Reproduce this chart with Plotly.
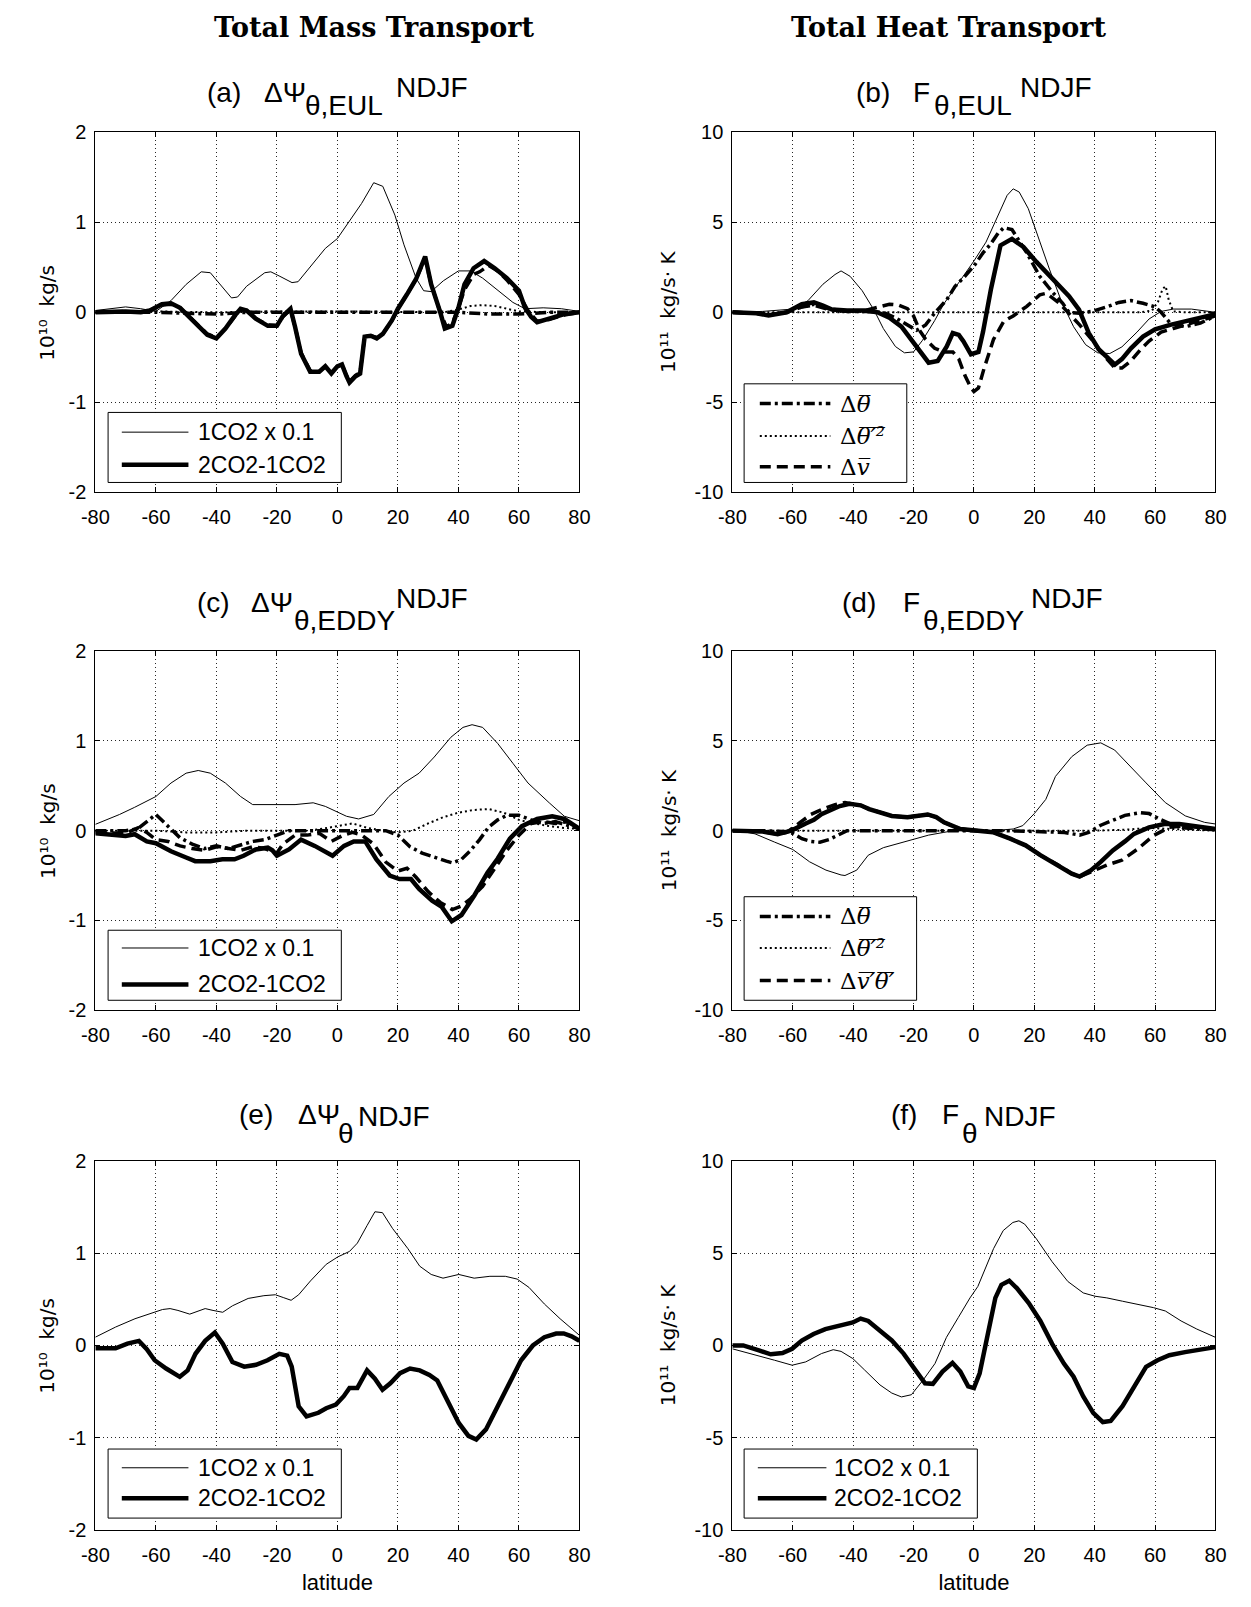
import plotly.graph_objects as go

W, H = 1251, 1607

# ---------------- data ----------------
# (a) Delta Psi_theta,EUL  [10^10 kg/s]
lat_a_1co2 = [-80, -70, -65, -60, -55, -50, -45, -42, -40, -35, -33, -30, -24, -22, -19, -15, -13, -9, -4, 0, 4, 8, 12, 15, 19, 22, 26, 28.5, 31, 35, 40, 44, 48, 53, 58, 62, 68, 74, 80]
a_1co2 = [0.02, 0.06, 0.04, 0.01, 0.13, 0.31, 0.45, 0.44, 0.36, 0.16, 0.17, 0.29, 0.44, 0.45, 0.40, 0.33, 0.34, 0.51, 0.71, 0.82, 1.01, 1.21, 1.44, 1.40, 1.08, 0.75, 0.38, 0.24, 0.23, 0.35, 0.46, 0.46, 0.38, 0.24, 0.11, 0.04, 0.05, 0.04, 0.01]
lat_a_diff = [-80, -70, -65, -62, -58, -55, -52, -48, -43, -40, -37, -34, -32, -30, -27, -23, -20, -18, -15.5, -14, -12, -9, -6, -4, -2, 0, 1.5, 3, 4, 6, 7.5, 9, 11, 13, 15, 18, 20, 23, 26, 29, 31, 34, 35.5, 38, 40, 42, 45, 48.5, 52, 56, 60, 62, 64, 66, 70, 75, 80]
a_diff = [0, 0.01, 0, 0.02, 0.09, 0.1, 0.05, -0.09, -0.25, -0.29, -0.18, -0.04, 0.04, 0.02, -0.07, -0.15, -0.15, -0.04, 0.04, -0.16, -0.46, -0.66, -0.66, -0.6, -0.68, -0.6, -0.58, -0.71, -0.78, -0.71, -0.68, -0.27, -0.26, -0.29, -0.24, -0.09, 0.04, 0.2, 0.37, 0.62, 0.31, 0, -0.18, -0.15, 0.05, 0.31, 0.49, 0.57, 0.49, 0.38, 0.24, 0.05, -0.05, -0.11, -0.07, -0.02, 0]
lat_a_theta = [-80, -60, -50, -40, -30, -20, -10, 0, 10, 20, 30, 40, 50, 60, 70, 80]
a_theta = [0, 0, -0.01, -0.02, 0, 0, 0, 0, 0, 0, 0, 0, -0.02, -0.02, 0, 0]
lat_a_var = [-80, -60, -40, -20, 0, 20, 35, 40, 44, 48, 52, 56, 60, 70, 80]
a_var = [0, 0.01, 0, 0.01, 0.01, 0, 0, 0.03, 0.07, 0.08, 0.07, 0.04, 0.01, 0, 0]
lat_a_v = [-80, -70, -65, -62, -58, -55, -52, -48, -43, -40, -37, -34, -32, -30, -27, -23, -20, -18, -15.5, -14, -12, -9, -6, -4, -2, 0, 1.5, 3, 4, 6, 7.5, 9, 11, 13, 15, 18, 20, 23, 26, 29, 31, 34, 36, 38, 40, 42, 45, 47, 50, 53, 56, 60, 63, 66, 70, 75, 80]
a_v = [0, 0.01, 0, 0.02, 0.08, 0.09, 0.05, -0.08, -0.24, -0.28, -0.18, -0.05, 0.03, 0.02, -0.07, -0.14, -0.15, -0.05, 0.03, -0.16, -0.45, -0.65, -0.66, -0.6, -0.67, -0.6, -0.58, -0.7, -0.77, -0.7, -0.67, -0.27, -0.26, -0.28, -0.24, -0.09, 0.04, 0.2, 0.37, 0.6, 0.31, 0, -0.16, -0.12, 0.05, 0.25, 0.42, 0.45, 0.52, 0.46, 0.36, 0.2, 0.02, -0.1, -0.08, -0.03, 0]

# (b) F_theta,EUL  [10^11 kg/s K]
lat_b_1co2 = [-80, -70, -60, -55, -50, -46, -44, -41, -37, -33, -30, -26, -23, -20, -17, -13, -10, -5, 0, 4, 8, 11, 13, 15, 18, 21, 25, 29, 33, 37, 41, 45, 49, 54, 58, 62, 66, 72, 80]
b_1co2 = [0, 0.05, 0.18, 0.64, 1.56, 2.1, 2.3, 2.0, 1.2, 0.1, -0.9, -1.9, -2.25, -2.2, -1.55, -0.46, 0.46, 1.65, 2.85, 3.9, 5.4, 6.5, 6.86, 6.68, 5.76, 4.3, 2.4, 0.6, -0.8, -1.8, -2.25, -2.29, -1.92, -1.1, -0.37, 0.05, 0.18, 0.18, 0]
lat_b_diff = [-80, -72, -68, -62, -57, -53, -50, -47, -42, -36, -32, -28, -24, -20, -17, -15, -12, -9, -7, -5, -3.5, -1, 1.5, 3, 5.6, 8.8, 12.6, 16.4, 20.7, 26, 31.5, 34.8, 38, 41.3, 44.5, 46.7, 49, 52, 56, 60, 65, 70, 75, 80]
b_diff = [0, -0.05, -0.18, 0, 0.45, 0.55, 0.37, 0.15, 0.1, 0.1, 0, -0.3, -0.8, -1.7, -2.45, -2.8, -2.7, -1.9, -1.15, -1.25, -1.6, -2.33, -2.2, -1.1, 1.25, 3.72, 4.08, 3.63, 2.8, 1.9, 0.9, 0.15, -1.14, -2.05, -2.6, -2.9, -2.6, -2.0, -1.35, -0.95, -0.7, -0.5, -0.3, -0.1]
lat_b_theta = [-80, -72, -68, -62, -57, -53, -48, -42, -36, -30, -26, -22, -19, -16, -12.8, -9, -6.3, -3, 0.2, 3, 5.6, 8, 9.9, 12.6, 15, 17.5, 21.8, 26.1, 29.4, 31.5, 35, 39, 44, 48, 52, 56, 60, 62, 65, 70, 75, 80]
b_theta = [0, -0.05, -0.15, 0, 0.3, 0.45, 0.2, 0.05, 0.05, 0, -0.3, -0.7, -1.0, -0.7, 0, 0.7, 1.43, 2.0, 2.62, 3.3, 3.8, 4.4, 4.7, 4.6, 4.0, 3.3, 2.0, 1.1, 0.5, 0, -0.05, 0.05, 0.3, 0.55, 0.65, 0.5, 0.3, 0, -0.6, -0.8, -0.6, -0.2]
lat_b_var = [-80, -70, -60, -40, -20, 0, 20, 40, 55, 59, 61, 62.5, 63.5, 64.5, 66, 70, 80]
b_var = [0, 0, 0, 0, 0, 0, 0, 0, 0, 0.1, 0.6, 1.3, 1.45, 0.7, 0.05, 0, 0]
lat_b_v = [-80, -72, -68, -62, -57, -53, -48, -42, -36, -31, -28, -25, -22, -20, -18, -16, -13, -10, -7, -5, -3, -1, 0, 1.5, 3.3, 6.5, 9.9, 13, 17.5, 21.8, 24, 28.3, 31.5, 35, 39, 43, 46.7, 49, 52, 55, 58, 62, 66, 70, 75, 80]
b_v = [0, -0.05, -0.15, 0, 0.3, 0.4, 0.15, 0.05, 0.1, 0.35, 0.45, 0.4, 0.2, -0.2, -1.0, -1.5, -2.0, -2.2, -2.2, -2.6, -3.5, -4.2, -4.4, -4.2, -3.15, -1.5, -0.5, -0.2, 0.33, 0.97, 1.06, 0.51, -0.04, -0.7, -1.5, -2.4, -3.1, -3.1, -2.7, -2.1, -1.6, -1.1, -0.9, -0.7, -0.45, -0.2]

# (c) Delta Psi_theta,EDDY  [10^10 kg/s]
lat_c_1co2 = [-80, -72, -67, -60, -55, -50, -46, -42, -37, -32, -28, -24, -19, -14, -8, -4, 3, 7, 12, 17, 22, 27, 32, 37.5, 41.5, 44.5, 48, 53, 58, 63, 70, 75, 80]
c_1co2 = [0.07, 0.18, 0.26, 0.38, 0.53, 0.64, 0.67, 0.64, 0.53, 0.38, 0.29, 0.29, 0.29, 0.29, 0.31, 0.27, 0.16, 0.13, 0.18, 0.38, 0.53, 0.64, 0.82, 1.04, 1.15, 1.18, 1.15, 0.97, 0.75, 0.53, 0.31, 0.16, 0.11]
lat_c_diff = [-80, -75, -70, -67, -63, -60, -55, -50, -47, -42, -38, -34, -31, -27, -23, -21.5, -20, -16, -12, -7.5, -1.6, 2.2, 5.4, 9.2, 12.9, 17.3, 20.5, 24.3, 27, 31.3, 34.5, 37.8, 41, 45.3, 49.6, 53, 57, 61, 66, 71, 75, 80]
c_diff = [-0.03, -0.05, -0.06, -0.04, -0.12, -0.14, -0.23, -0.3, -0.34, -0.34, -0.32, -0.32, -0.28, -0.21, -0.19, -0.22, -0.28, -0.21, -0.1, -0.17, -0.28, -0.17, -0.12, -0.12, -0.32, -0.5, -0.54, -0.54, -0.65, -0.78, -0.85, -1.01, -0.94, -0.72, -0.47, -0.31, -0.09, 0.05, 0.13, 0.16, 0.13, 0.02]
lat_c_theta = [-80, -70, -66, -63, -60, -56, -52, -48, -44, -40, -36, -32, -28, -24, -20, -16, -12, -8, -4, 0, 4, 8, 12, 16, 20, 24, 28, 32, 36, 38, 41, 44, 47, 50, 53, 56, 60, 64, 68, 72, 76, 80]
c_theta = [0, 0, 0.02, 0.1, 0.18, 0.05, -0.08, -0.15, -0.2, -0.17, -0.2, -0.16, -0.12, -0.1, -0.05, 0, 0, 0, 0, 0, 0, 0, 0, 0, -0.05, -0.18, -0.25, -0.3, -0.34, -0.36, -0.32, -0.22, -0.1, 0.04, 0.12, 0.17, 0.17, 0.12, 0.08, 0.1, 0.06, 0.02]
lat_c_var = [-80, -60, -50, -40, -30, -20, -10, -5, 0, 5, 10, 15, 20, 25, 30, 35, 40, 45, 50, 55, 60, 65, 70, 75, 80]
c_var = [0, 0, -0.02, -0.02, 0, 0, 0, 0.02, 0.05, 0.08, 0.03, 0, -0.02, 0, 0.08, 0.15, 0.2, 0.23, 0.24, 0.2, 0.12, 0.08, 0.05, 0.03, 0.02]
lat_c_v = [-80, -70, -66, -63, -60, -56, -52, -48, -44, -40, -36, -32, -28, -24, -20, -18, -14, -10, -6, -2, 2, 5, 8, 12, 16, 20, 23, 26, 30, 34, 38, 41, 44, 48, 52, 56, 60, 64, 68, 72, 76, 80]
c_v = [-0.02, -0.03, 0.03, -0.02, -0.1, -0.12, -0.17, -0.2, -0.22, -0.18, -0.2, -0.22, -0.18, -0.2, -0.25, -0.15, -0.05, -0.05, -0.03, -0.12, -0.05, -0.02, -0.05, -0.15, -0.35, -0.45, -0.42, -0.52, -0.68, -0.8, -0.88, -0.84, -0.76, -0.62, -0.42, -0.22, -0.05, 0.08, 0.1, 0.08, 0.1, 0.02]

# (d) F_theta,EDDY  [10^11 kg/s K]
lat_d_1co2 = [-80, -72.5, -66, -60, -54.4, -49, -44, -42.7, -38.8, -35, -30, -24.6, -20, -15, -10, -5, 0, 6.5, 13, 16.2, 20, 23.8, 27, 32.4, 37.5, 42, 46.6, 52, 57, 63.4, 70, 76.4, 80]
d_1co2 = [0.05, -0.18, -0.64, -1.05, -1.74, -2.2, -2.47, -2.5, -2.2, -1.37, -0.95, -0.7, -0.45, -0.25, -0.1, 0.05, 0, 0, 0.09, 0.28, 0.95, 1.74, 3.02, 4.12, 4.76, 4.89, 4.49, 3.57, 2.66, 1.56, 0.82, 0.46, 0.37]
lat_d_diff = [-80, -70, -65, -60.5, -55.7, -53, -50.5, -47, -44.4, -41.2, -37.5, -34.7, -30, -27.2, -22, -18.6, -15.3, -12.5, -9.9, -4.5, 0, 6.3, 12, 17.1, 22, 27.9, 32.4, 35, 38.8, 42, 46, 50, 53, 58, 63, 68, 74, 80]
d_diff = [0, -0.05, -0.2, 0, 0.4, 0.6, 0.92, 1.2, 1.37, 1.5, 1.41, 1.2, 0.95, 0.82, 0.75, 0.82, 0.9, 0.75, 0.46, 0.09, 0, -0.09, -0.45, -0.82, -1.37, -1.92, -2.4, -2.56, -2.2, -1.74, -1.1, -0.6, -0.18, 0.18, 0.37, 0.37, 0.2, 0.09]
lat_d_theta = [-80, -70, -63, -60, -57, -54, -51, -48, -45, -42, -38, -30, -20, -10, 0, 10, 20, 30, 35, 38, 42, 46, 50, 55, 58, 62, 66, 70, 75, 80]
d_theta = [0, 0, -0.05, -0.15, -0.45, -0.6, -0.65, -0.5, -0.25, 0, 0, 0, 0, 0, 0, 0, -0.05, -0.1, -0.25, -0.1, 0.3, 0.6, 0.85, 1.0, 0.95, 0.6, 0.3, 0.15, 0.1, 0.05]
lat_d_var = [-80, -60, -40, -20, 0, 20, 40, 50, 58, 64, 70, 80]
d_var = [0, 0, 0, 0, 0, 0, 0, 0.05, 0.15, 0.1, 0.05, 0]
lat_d_v = [-80, -70, -65, -62, -58, -54, -50, -46, -42.7, -37.5, -34.7, -30, -27.2, -22, -18.6, -15.3, -12.5, -9.9, -4.5, 0, 6.3, 12, 17.1, 22, 27.9, 32.4, 35, 38.8, 44, 49, 54.4, 59.5, 64.7, 69.9, 76.4, 80]
d_v = [0, -0.05, -0.2, -0.1, 0.4, 0.9, 1.2, 1.45, 1.56, 1.41, 1.2, 0.95, 0.82, 0.75, 0.82, 0.9, 0.75, 0.46, 0.09, 0, -0.09, -0.45, -0.82, -1.37, -1.92, -2.4, -2.56, -2.3, -1.92, -1.65, -1.0, -0.27, 0.18, 0.27, 0.12, 0.05]

# (e) Delta Psi_theta  [10^10 kg/s]
lat_e_1co2 = [-80, -73.3, -66.9, -61.7, -57.8, -55.3, -52.7, -48.8, -46.2, -43.7, -41.1, -37.9, -34.7, -29.5, -24.3, -20.5, -17.9, -15.3, -12.8, -8.9, -3.7, 0.1, 4, 6.6, 9.8, 12.4, 14.9, 18.2, 23.3, 27.2, 31, 34.9, 40.1, 45.2, 50.4, 55.5, 59.4, 63.3, 68.4, 73.6, 80]
e_1co2 = [0.09, 0.2, 0.29, 0.35, 0.39, 0.4, 0.38, 0.34, 0.37, 0.4, 0.38, 0.36, 0.43, 0.51, 0.54, 0.55, 0.52, 0.49, 0.55, 0.7, 0.88, 0.96, 1.02, 1.11, 1.3, 1.45, 1.44, 1.27, 1.05, 0.86, 0.77, 0.73, 0.77, 0.73, 0.75, 0.75, 0.72, 0.63, 0.45, 0.29, 0.11]
lat_e_diff = [-80, -73.3, -69.4, -65.6, -63, -60.4, -56.6, -52.1, -49.5, -46.9, -43.7, -40.5, -37.9, -34.7, -30.8, -26.9, -23.1, -19.2, -16.6, -15.1, -12.8, -10.2, -6.3, -3.7, -0.5, 2.1, 4, 6.6, 9.8, 12.4, 14.9, 17.5, 20.7, 24, 27.2, 30.4, 33, 36.2, 40.1, 43.3, 45.9, 49.1, 53, 56.8, 60.7, 64.6, 68.4, 72.3, 74.8, 77.4, 80]
e_diff = [-0.03, -0.03, 0.02, 0.05, -0.04, -0.16, -0.25, -0.34, -0.27, -0.09, 0.05, 0.14, 0.02, -0.18, -0.23, -0.21, -0.16, -0.09, -0.11, -0.23, -0.66, -0.77, -0.73, -0.68, -0.64, -0.55, -0.46, -0.46, -0.27, -0.36, -0.48, -0.41, -0.3, -0.25, -0.27, -0.32, -0.38, -0.59, -0.84, -0.98, -1.02, -0.91, -0.66, -0.41, -0.16, 0, 0.09, 0.13, 0.13, 0.1, 0.05]

# (f) F_theta  [10^11 kg/s K]
lat_f_1co2 = [-80, -73.8, -66, -60.2, -55.7, -50.5, -46.6, -44, -40.1, -36.2, -31.1, -27.2, -24, -20.7, -16.8, -12.9, -9.1, -5.2, -1.3, 1.3, 3.9, 6.5, 9.7, 12.9, 14.9, 16.8, 20.7, 25.9, 31.1, 36.2, 40.1, 44, 49.2, 54.4, 59.5, 63.4, 68.6, 73.8, 80]
f_1co2 = [-0.18, -0.44, -0.8, -1.07, -0.89, -0.44, -0.23, -0.32, -0.71, -1.33, -2.14, -2.58, -2.79, -2.67, -1.87, -0.98, 0.44, 1.51, 2.58, 3.2, 4.18, 5.25, 6.23, 6.67, 6.76, 6.58, 5.78, 4.54, 3.47, 2.85, 2.67, 2.58, 2.4, 2.22, 2.05, 1.87, 1.33, 0.89, 0.44]
lat_f_diff = [-80, -76.4, -71.2, -67.3, -63.4, -60.2, -57, -53.1, -49.2, -44, -40.1, -37.5, -35, -31.1, -27.2, -23.3, -19.4, -16.2, -13.6, -10.4, -7.1, -4.5, -1.9, 0, 1.9, 4.5, 7.1, 9.1, 11.7, 14.2, 18.1, 22, 25.9, 29.8, 33, 36.2, 39.5, 42.7, 45.3, 49.2, 53.1, 57, 60.8, 64.7, 69.9, 75.1, 80]
f_diff = [0, 0, -0.27, -0.48, -0.41, -0.18, 0.27, 0.62, 0.89, 1.07, 1.25, 1.46, 1.33, 0.8, 0.27, -0.44, -1.33, -2.05, -2.08, -1.42, -0.94, -1.42, -2.22, -2.31, -1.51, 0.62, 2.58, 3.29, 3.51, 3.11, 2.31, 1.33, 0.09, -0.98, -1.69, -2.76, -3.65, -4.15, -4.09, -3.29, -2.22, -1.16, -0.8, -0.53, -0.36, -0.21, -0.09]

lat_ticks = [-80, -60, -40, -20, 0, 20, 40, 60, 80]
lat_tick_text = ["-80", "-60", "-40", "-20", "0", "20", "40", "60", "80"]
mass_ticks = [-2, -1, 0, 1, 2]
mass_tick_text = ["-2", "-1", "0", "1", "2"]
heat_ticks = [-10, -5, 0, 5, 10]
heat_tick_text = ["-10", "-5", "0", "5", "10"]

legend_mass = ["1CO2 x 0.1", "2CO2-1CO2"]
legend_eul = ["Δ<i>θ\u0305</i>", "Δ<i>θ\u0305\u2032\u0305\u00b2\u0305</i>", "Δ<i>v\u0305</i>"]
legend_eddy = ["Δ<i>θ\u0305</i>", "Δ<i>θ\u0305\u2032\u0305\u00b2\u0305</i>", "Δ<i>v\u0305\u2032\u0305θ\u0305\u2032\u0305</i>"]

# ---------------- styles / layout ----------------
SANS = "Liberation Sans, Arial, sans-serif"
SANS_SUP = "DejaVu Sans, sans-serif"
SERIF = "DejaVu Serif, serif"
THIN = dict(color="black", width=1)
THICK = dict(color="black", width=4.5)
DASHDOT = dict(color="black", width=3.5, dash="11px,4px,3px,4px")
DOTTED = dict(color="black", width=2, dash="2px,3px")
DASHED = dict(color="black", width=3.5, dash="11px,6px")


def px(x):
    return x / W


def py(y):
    return 1 - y / H


# pixel boxes (left, right, top, bottom)
BOX = {
    1: (83, 577, 123, 488),
    2: (733, 1226, 123, 488),
    3: (83, 577, 649, 1013),
    4: (733, 1226, 649, 1013),
    5: (83, 577, 1166, 1540),
    6: (733, 1226, 1166, 1540),
}

fig = go.Figure()

series = {
    1: [(lat_a_1co2, a_1co2, THIN), (lat_a_diff, a_diff, THICK), (lat_a_theta, a_theta, DASHDOT),
        (lat_a_var, a_var, DOTTED), (lat_a_v, a_v, DASHED)],
    2: [(lat_b_1co2, b_1co2, THIN), (lat_b_diff, b_diff, THICK), (lat_b_theta, b_theta, DASHDOT),
        (lat_b_var, b_var, DOTTED), (lat_b_v, b_v, DASHED)],
    3: [(lat_c_1co2, c_1co2, THIN), (lat_c_diff, c_diff, THICK), (lat_c_theta, c_theta, DASHDOT),
        (lat_c_var, c_var, DOTTED), (lat_c_v, c_v, DASHED)],
    4: [(lat_d_1co2, d_1co2, THIN), (lat_d_diff, d_diff, THICK), (lat_d_theta, d_theta, DASHDOT),
        (lat_d_var, d_var, DOTTED), (lat_d_v, d_v, DASHED)],
    5: [(lat_e_1co2, e_1co2, THIN), (lat_e_diff, e_diff, THICK)],
    6: [(lat_f_1co2, f_1co2, THIN), (lat_f_diff, f_diff, THICK)],
}

for n, lst in series.items():
    sfx = "" if n == 1 else str(n)
    for xs, ys, st in lst:
        fig.add_trace(go.Scatter(x=xs, y=ys, mode="lines", line=st, showlegend=False,
                                 hoverinfo="skip", xaxis="x" + sfx, yaxis="y" + sfx))

layout = dict(width=W, height=H, autosize=False, margin=dict(l=0, r=0, t=0, b=0),
              paper_bgcolor="white", plot_bgcolor="white", showlegend=False,
              font=dict(family=SANS, color="black"))

for n, (l, r, t, b) in BOX.items():
    sfx = "" if n == 1 else str(n)
    heat = (n % 2 == 0)
    common = dict(showline=True, linecolor="black", linewidth=1, mirror="ticks",
                  ticks="inside", ticklen=5, tickcolor="black", showgrid=True,
                  gridcolor="rgba(0,0,0,0.85)", gridwidth=1, griddash="1px,3px",
                  zeroline=False, tickfont=dict(family=SANS, size=20, color="black"))
    layout["xaxis" + sfx] = dict(common, domain=[px(l), px(r)], range=[-80, 80],
                                 tickvals=lat_ticks, ticktext=lat_tick_text,
                                 ticklabelstandoff=7, anchor="y" + sfx)
    layout["yaxis" + sfx] = dict(common, domain=[py(b), py(t)],
                                 range=[-10, 10] if heat else [-2, 2],
                                 tickvals=heat_ticks if heat else mass_ticks,
                                 ticktext=heat_tick_text if heat else mass_tick_text,
                                 ticklabelstandoff=4, anchor="x" + sfx)
    if n >= 5:
        layout["xaxis" + sfx]["title"] = dict(text="latitude", font=dict(size=22), standoff=9)

fig.update_layout(**layout)

ann = []
shapes = []


def text(x, y, s, size, anchor="left", family=SANS, angle=0, yanchor="middle"):
    ann.append(dict(x=px(x), y=py(y), xref="paper", yref="paper", text=s, showarrow=False,
                    xanchor=anchor, yanchor=yanchor, textangle=angle,
                    font=dict(family=family, size=size, color="black")))


# column headers
text(368, 17, "<b>Total Mass Transport</b>", 27, anchor="center", family=SERIF)
text(954, 17, "<b>Total Heat Transport</b>", 27, anchor="center", family=SERIF)

# panel titles: (label, x_label, main, x_main, sub, x_sub, sup, x_sup, y_main, y_sub, y_sup)
titles = [
    ("(a)", 195, "ΔΨ", 253, "θ,EUL", 295, "NDJF", 388, 83, 96, 78),
    ("(b)", 857, "F", 915, "θ,EUL", 937, "NDJF", 1024, 83, 96, 78),
    ("(c)", 185, "ΔΨ", 240, "θ,EDDY", 284, "NDJF", 388, 600, 618, 596),
    ("(d)", 843, "F", 905, "θ,EDDY", 925, "NDJF", 1036, 600, 618, 596),
    ("(e)", 228, "ΔΨ", 288, "θ", 329, "NDJF", 349, 1119, 1138, 1121),
    ("(f)", 893, "F", 945, "θ", 965, "NDJF", 988, 1119, 1138, 1121),
]
for lab, xl, main, xm, sub, xs, sup, xp, ym, ysb, ysp in titles:
    text(xl, ym, lab, 28)
    text(xm, ym, main, 28)
    text(xs, ysb, sub, 28)
    text(xp, ysp, sup, 28)

# y-axis titles
for n, (l, r, t, b) in BOX.items():
    yc = (t + b) / 2
    if n % 2 == 1:
        text(34, yc, "10¹⁰  kg/s", 20, anchor="center", angle=-90, family=SANS_SUP)
    else:
        text(668, yc, "10¹¹  kg/s· K", 20, anchor="center", angle=-90, family=SANS_SUP)


# legends
def legend_box(x0, x1, y0, y1):
    shapes.append(dict(type="rect", xref="paper", yref="paper", x0=px(x0), x1=px(x1),
                       y0=py(y1), y1=py(y0), line=dict(color="black", width=1),
                       fillcolor="white", layer="above"))


def legend_item(xa, xb, y, st, label, xt, family=SANS, size=23):
    shapes.append(dict(type="line", xref="paper", yref="paper", x0=px(xa), x1=px(xb),
                       y0=py(y), y1=py(y), line=st, layer="above"))
    text(xt, y, label, size, family=family)


for (t0, t1), ys in zip([(407, 478), (932, 1003), (1458, 1528)], [(427, 460), (950, 987), (1477, 1508)]):
    legend_box(96, 334, t0, t1)
    legend_item(110, 178, ys[0], THIN, legend_mass[0], 186)
    legend_item(110, 178, ys[1], THICK, legend_mass[1], 186)

legend_box(745, 911, 378, 478)
for y, st, lab in zip((398, 431, 462), (DASHDOT, DOTTED, DASHED), legend_eul):
    legend_item(761, 833, y, st, lab, 841, family=SERIF, size=23)

legend_box(745, 921, 898, 1003)
for y, st, lab in zip((918, 950, 983), (DASHDOT, DOTTED, DASHED), legend_eddy):
    legend_item(761, 833, y, st, lab, 841, family=SERIF, size=23)

legend_box(745, 983, 1458, 1528)
legend_item(759, 829, 1477, THIN, legend_mass[0], 835)
legend_item(759, 829, 1508, THICK, legend_mass[1], 835)

fig.update_layout(annotations=ann, shapes=shapes)
fig.write_html("out.html")
